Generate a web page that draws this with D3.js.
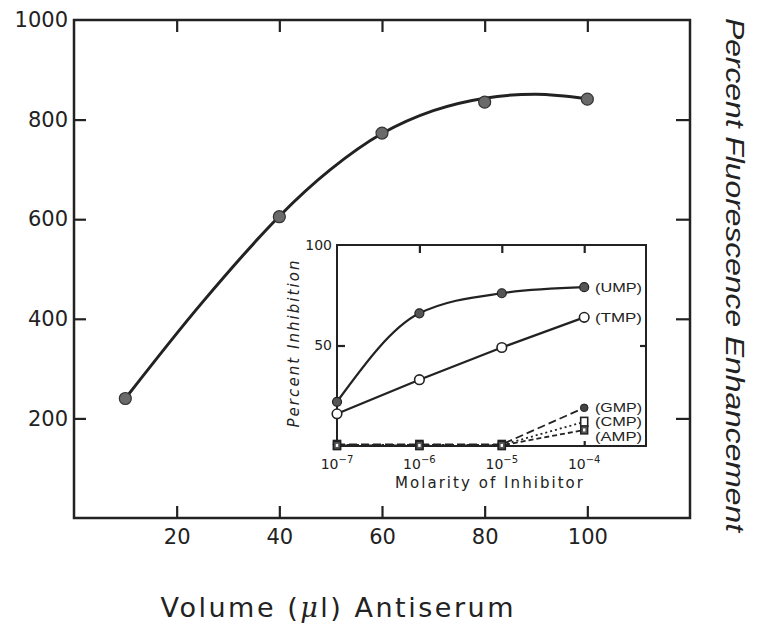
<!DOCTYPE html>
<html lang="en">
<head>
    <meta charset="UTF-8">
    <title>Percent Fluorescence Enhancement vs Volume Antiserum</title>
    <script src="https://d3js.org/d3.v7.min.js"></script>
    <style>
        body { margin: 0; background: #fff; }
        svg { display: block; }
        .tick line { stroke: #222; stroke-width: 2.2; }
        .domain { display: none; }
    </style>
</head>
<body>
    <div id="chart"></div>
    <script>
        // main plot data
        const volume = [10, 40, 60, 80, 100];
        const enhancement = [240, 605, 773, 835, 841];
        // hand-drawn smooth curve through the points
        const fitVolume = [10, 25, 40, 50, 60, 70, 80, 90, 100];
        const fitEnhancement = [240, 433, 606, 700, 772, 818, 843, 851, 842];
        const xTicks = [20, 40, 60, 80, 100];
        const yTicks = [200, 400, 600, 800, 1000];

        // inset data (percent inhibition)
        const molarity = [1e-7, 1e-6, 1e-5, 1e-4];
        const molarityExp = ["7", "6", "5", "4"];
        const ump = [22, 66, 76, 79];
        const tmp = [16, 33, 49, 64];
        const gmp = [0.8, 0.8, 0.8, 19];
        const cmp = [0.5, 0.5, 0.5, 12];
        const amp = [0.3, 0.3, 0.3, 8];
        const insetYTicks = [50, 100];
        const seriesLabels = ["(UMP)", "(TMP)", "(GMP)", "(CMP)", "(AMP)"];

        const W = 763, H = 633;
        const svg = d3.select("#chart").append("svg")
            .attr("width", W).attr("height", H);

        const ink = "#222";
        const font = "DejaVu Sans, sans-serif";
        const sans = "Liberation Sans, Arial, sans-serif";

        // Scales
        const x = d3.scaleLinear().domain([0, 120]).range([74, 690]);
        const y = d3.scaleLinear().domain([0, 1000]).range([518, 20]);

        // frame
        svg.append("rect")
            .attr("x", x(0)).attr("y", y(1000))
            .attr("width", x(120) - x(0)).attr("height", y(0) - y(1000))
            .attr("fill", "none").attr("stroke", ink).attr("stroke-width", 2.5);

        // Axes (ticks point inward)
        svg.append("g").attr("transform", `translate(${x(0)},0)`)
            .call(d3.axisLeft(y).tickValues(yTicks).tickFormat(d3.format("d")).tickSizeInner(-12).tickSizeOuter(0).tickPadding(6))
            .call(g => g.selectAll("text").attr("font-family", font).attr("font-size", 21).attr("fill", ink))
            .call(g => g.selectAll(".tick").filter(d => d === 1000).select("line").remove());
        svg.append("g").attr("transform", `translate(0,${y(0)})`)
            .call(d3.axisBottom(x).tickValues(xTicks).tickSizeInner(-12).tickSizeOuter(0).tickPadding(11))
            .call(g => g.selectAll("text").attr("font-family", font).attr("font-size", 21).attr("fill", ink));
        svg.append("g").attr("transform", `translate(0,${y(1000)})`)
            .call(d3.axisTop(x).tickValues(xTicks).tickSizeInner(-12).tickSizeOuter(0).tickFormat(""));
        svg.append("g").attr("transform", `translate(${x(120)},0)`)
            .call(d3.axisRight(y).tickValues([200, 400, 600, 800]).tickSizeInner(-14).tickSizeOuter(0).tickFormat(""));

        // Main curve
        const fitData = fitVolume.map((v, i) => [v, fitEnhancement[i]]);
        svg.append("path")
            .datum(fitData)
            .attr("fill", "none").attr("stroke", ink).attr("stroke-width", 3)
            .attr("d", d3.line().x(d => x(d[0])).y(d => y(d[1])).curve(d3.curveCatmullRom.alpha(0.5)));
        const mainData = volume.map((v, i) => [v, enhancement[i]]);
        svg.selectAll(".pt").data(mainData).enter().append("circle")
            .attr("class", "pt")
            .attr("cx", d => x(d[0])).attr("cy", d => y(d[1])).attr("r", 6)
            .attr("fill", "#6a6a6a").attr("stroke", "#333").attr("stroke-width", 1.2);

        // Titles
        svg.append("text")
            .attr("x", 337).attr("y", 617)
            .attr("text-anchor", "middle")
            .attr("font-family", font)
            .attr("font-size", 27).attr("fill", ink)
            .attr("textLength", 353).attr("lengthAdjust", "spacing")
            .html('Volume (<tspan font-style="italic" font-family="DejaVu Serif, serif">μ</tspan>l) Antiserum');
        svg.append("text")
            .attr("transform", "translate(726,275) rotate(90)")
            .attr("text-anchor", "middle")
            .attr("font-family", sans)
            .attr("font-style", "italic")
            .attr("font-size", 25).attr("fill", ink)
            .attr("textLength", 514).attr("lengthAdjust", "spacingAndGlyphs")
            .text("Percent Fluorescence Enhancement");

        // ---------- Inset ----------
        const ix = d3.scaleLog().domain([1e-7, Math.pow(10, -3.25)]).range([337, 646]);
        const iy = d3.scaleLinear().domain([0, 100]).range([446, 245]);
        const inset = svg.append("g");

        inset.append("rect")
            .attr("x", ix.range()[0]).attr("y", iy(100))
            .attr("width", ix.range()[1] - ix.range()[0]).attr("height", iy(0) - iy(100))
            .attr("fill", "#fff").attr("stroke", ink).attr("stroke-width", 2);

        inset.append("g").attr("transform", `translate(${ix.range()[0]},0)`)
            .call(d3.axisLeft(iy).tickValues(insetYTicks).tickSizeInner(-8).tickSizeOuter(0).tickPadding(5))
            .call(g => g.selectAll("text").attr("font-family", font).attr("font-size", 14).attr("fill", ink))
            .call(g => g.selectAll(".tick").filter(d => d === 100).select("line").remove());
        inset.append("g").attr("transform", `translate(${ix.range()[1]},0)`)
            .call(d3.axisRight(iy).tickValues([50]).tickSizeInner(-6).tickSizeOuter(0).tickFormat(""));
        inset.append("g").attr("transform", `translate(0,${iy(100)})`)
            .call(d3.axisTop(ix).tickValues(molarity.slice(1)).tickSizeInner(-8).tickSizeOuter(0).tickFormat(""));
        inset.append("g").attr("transform", `translate(0,${iy(0)})`)
            .call(d3.axisBottom(ix).tickValues(molarity.slice(1)).tickSizeInner(-5).tickSizeOuter(0).tickFormat(""));
        inset.selectAll(".tick line").attr("stroke-width", 1.8);

        // x tick labels 10^n
        const xl = inset.selectAll(".xlab").data(molarity).enter().append("text")
            .attr("class", "xlab")
            .attr("x", d => ix(d)).attr("y", 469)
            .attr("text-anchor", "middle")
            .attr("font-family", font).attr("font-size", 14).attr("fill", ink);
        xl.append("tspan").text("10");
        xl.append("tspan").attr("dy", -6).attr("font-size", 10).text((d, i) => "\u2212" + molarityExp[i]);

        inset.append("text")
            .attr("x", 489).attr("y", 488).attr("text-anchor", "middle")
            .attr("font-family", font).attr("font-size", 15).attr("fill", ink)
            .attr("textLength", 188).attr("lengthAdjust", "spacing")
            .text("Molarity of Inhibitor");
        inset.append("text")
            .attr("transform", "translate(299,344) rotate(-90)")
            .attr("text-anchor", "middle")
            .attr("font-family", font).attr("font-style", "italic")
            .attr("font-size", 15).attr("fill", ink)
            .attr("textLength", 167).attr("lengthAdjust", "spacing")
            .text("Percent Inhibition");

        const line = d3.line().x((d, i) => ix(molarity[i])).y(d => iy(d));

        // dashed low series
        inset.append("path").datum(gmp).attr("d", line)
            .attr("fill", "none").attr("stroke", ink).attr("stroke-width", 1.8).attr("stroke-dasharray", "8,4");
        inset.append("path").datum(cmp).attr("d", line)
            .attr("fill", "none").attr("stroke", ink).attr("stroke-width", 1.8).attr("stroke-dasharray", "2,3");
        inset.append("path").datum(amp).attr("d", line)
            .attr("fill", "none").attr("stroke", ink).attr("stroke-width", 1.8).attr("stroke-dasharray", "5,3");

        // UMP and TMP
        inset.append("path").datum(ump).attr("d", d3.line().x((d, i) => ix(molarity[i])).y(d => iy(d)).curve(d3.curveMonotoneX))
            .attr("fill", "none").attr("stroke", ink).attr("stroke-width", 2.2);
        inset.append("path").datum(tmp).attr("d", line)
            .attr("fill", "none").attr("stroke", ink).attr("stroke-width", 2.2);

        // markers
        inset.selectAll(".gmp").data(gmp).enter().append("circle")
            .attr("cx", (d, i) => ix(molarity[i])).attr("cy", d => iy(d)).attr("r", 3.8)
            .attr("fill", "#444").attr("stroke", ink);
        inset.selectAll(".cmp").data(cmp).enter().append("rect")
            .attr("x", (d, i) => ix(molarity[i]) - 3.5).attr("y", d => iy(d) - 4.5)
            .attr("width", 7).attr("height", 9)
            .attr("fill", "#fff").attr("stroke", ink).attr("stroke-width", 1.6);
        inset.selectAll(".amp").data(amp).enter().append("rect")
            .attr("x", (d, i) => ix(molarity[i]) - 3.5).attr("y", d => iy(d) - 4)
            .attr("width", 7).attr("height", 8)
            .attr("fill", "#555").attr("stroke", ink).attr("stroke-width", 1.4);
        inset.selectAll(".ampdot").data(amp).enter().append("rect")
            .attr("x", (d, i) => ix(molarity[i]) - 1.2).attr("y", d => iy(d) - 1.5)
            .attr("width", 2.4).attr("height", 3).attr("fill", "#fff");
        inset.selectAll(".ump").data(ump).enter().append("circle")
            .attr("cx", (d, i) => ix(molarity[i])).attr("cy", d => iy(d)).attr("r", 4.5)
            .attr("fill", "#555").attr("stroke", ink).attr("stroke-width", 1.2);
        inset.selectAll(".tmp").data(tmp).enter().append("circle")
            .attr("cx", (d, i) => ix(molarity[i])).attr("cy", d => iy(d)).attr("r", 4.8)
            .attr("fill", "#fff").attr("stroke", ink).attr("stroke-width", 1.6);

        // series labels, placed beside the last point of each series
        const labelY = [iy(ump[3]), iy(tmp[3]), 407, 421.5, 436];
        inset.selectAll(".slab").data(seriesLabels).enter().append("text")
            .attr("x", 595).attr("y", (d, i) => labelY[i])
            .attr("dy", "0.35em")
            .attr("font-family", sans).attr("font-size", 13.5).attr("fill", ink)
            .attr("textLength", 47).attr("lengthAdjust", "spacingAndGlyphs")
            .text(d => d);
    </script>
</body>
</html>
